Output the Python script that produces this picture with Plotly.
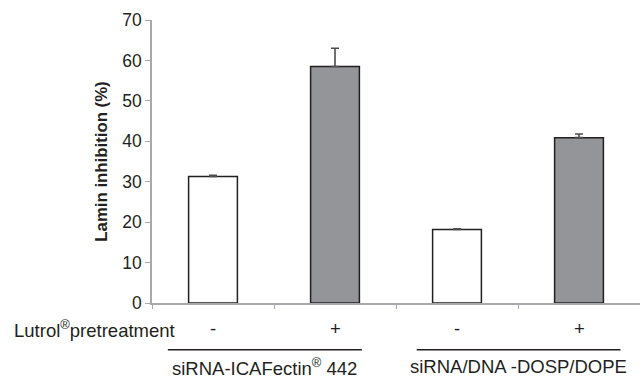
import plotly.graph_objects as go

# Data
categories = ["ICA -", "ICA +", "DOSP -", "DOSP +"]
lutrol_labels = ["-", "+", "-", "+"]
values = [31.3, 58.5, 18.2, 40.9]
err_upper = [0.3, 4.5, 0.15, 0.9]
fill_colors = ["#ffffff", "#939598", "#ffffff", "#939598"]
group_labels = ["siRNA-ICAFectin<sup>®</sup> 442", "siRNA/DNA -DOSP/DOPE"]
group_members = [[0, 1], [2, 3]]
y_ticks = [0, 10, 20, 30, 40, 50, 60, 70]

TXT = "#231f20"
FONT = "Liberation Sans, Arial, Helvetica, sans-serif"
xpos = list(range(len(categories)))
ANN = 18.5

fig = go.Figure()
fig.add_trace(go.Bar(
    x=xpos, y=values,
    marker=dict(color=fill_colors, line=dict(color=TXT, width=1.5)),
    width=0.4,
    error_y=dict(type="data", symmetric=False, array=err_upper,
                 arrayminus=[0] * len(values), color="#4d4d4f",
                 thickness=1.6, width=4),
    showlegend=False,
))

fig.update_layout(
    width=640, height=379,
    margin=dict(l=152, r=0, t=20, b=76),
    plot_bgcolor="white", paper_bgcolor="white",
    font=dict(family=FONT, color=TXT, size=16),
    xaxis=dict(range=[-0.5, 3.5], tickmode="array",
               tickvals=[-0.5, 0.5, 1.5, 2.5, 3.5], showticklabels=False,
               ticks="outside", ticklen=4, tickcolor="#a7a9ac",
               showline=True, linecolor="#a7a9ac", linewidth=1.5,
               showgrid=False, zeroline=False),
    yaxis=dict(range=[0, 70], tickmode="array", tickvals=y_ticks,
               ticks="outside", ticklen=5, tickcolor="#a7a9ac",
               showline=True, linecolor="#a7a9ac", linewidth=1.5,
               showgrid=False, zeroline=False,
               tickfont=dict(size=17.5, color=TXT),
               title=dict(text="<b>Lamin inhibition (%)</b>",
                          font=dict(size=16.8, color=TXT), standoff=10)),
)

annotations = []
annotations.append(dict(text="Lutrol<sup>®</sup>pretreatment", xref="paper", yref="paper",
                        x=0.052, y=-0.091, xanchor="right", yanchor="middle",
                        showarrow=False, font=dict(size=ANN, color=TXT)))
for i, lab in enumerate(lutrol_labels):
    annotations.append(dict(text=lab, x=xpos[i], xref="x", yref="paper", y=-0.091,
                            xanchor="center", yanchor="middle", showarrow=False,
                            font=dict(size=ANN, color=TXT)))

shapes = []
line_spans = [(-0.37, 1.22), (1.67, 3.34)]
for g, members in enumerate(group_members):
    x0, x1 = line_spans[g]
    shapes.append(dict(type="line", xref="x", yref="paper", x0=x0, x1=x1,
                       y0=-0.165, y1=-0.165, line=dict(color=TXT, width=1.5)))
    annotations.append(dict(text=group_labels[g], x=(x0 + x1) / 2, xref="x",
                            yref="paper", y=-0.225, xanchor="center", yanchor="middle",
                            showarrow=False, font=dict(size=ANN, color=TXT)))

fig.update_layout(annotations=annotations, shapes=shapes)
fig.write_html("out.html")
